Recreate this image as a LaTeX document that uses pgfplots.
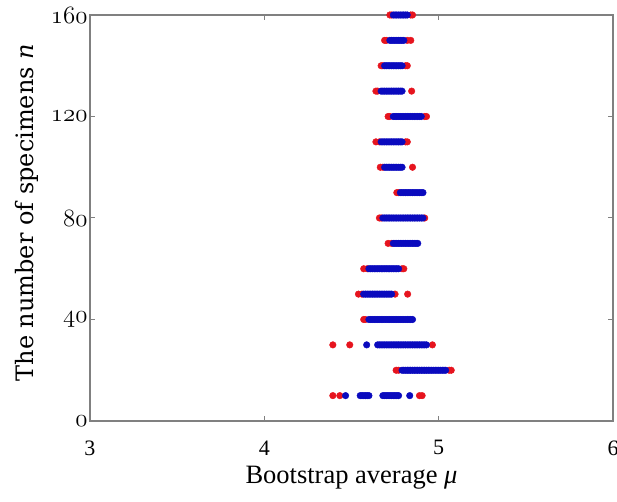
\documentclass[border=0pt]{standalone}
\usepackage{pgfplots}
\pgfplotsset{compat=1.18}
\usepackage{fontspec}
\setmainfont{Liberation Serif}
\newfontfamily\ylfont{DejaVu Serif}
\definecolor{rd}{RGB}{230,20,30}
\definecolor{bl}{RGB}{10,10,190}
\definecolor{ax}{RGB}{128,128,128}
\begin{document}
\begin{tikzpicture}
\begin{axis}[
  scale only axis, width=523pt, height=406pt,
  xmin=3, xmax=6, ymin=0, ymax=160,
  xtick={3,4,5,6}, ytick={0,40,80,120,160},
  xticklabels={3,4,5,6}, yticklabels={0,40,80,120,160},
  tick align=inside, major tick length=5pt,
  axis line style={ax, line width=1.3pt},
  tick style={ax, line width=1pt},
  x tick label style={font=\fontsize{22}{22}\selectfont, yshift=-16pt},
  y tick label style={font=\fontsize{24}{24}\usefont{OML}{cmm}{m}{it}, xshift=1pt},
  xlabel={Bootstrap average \textit{μ}},
  ylabel={The number of specimens \textit{n}},
  xlabel style={font=\fontsize{26.5}{26.5}\selectfont, at={(axis description cs:0.5,-0.140)}, anchor=center},
  ylabel style={font=\ylfont\fontsize{24}{24}\selectfont, at={(axis description cs:-0.1205,0.513)}, anchor=center},
]
% red points (extremes)
\addplot[only marks, mark=*, mark size=3.3pt, color=rd, mark options={fill=rd, draw=rd}] coordinates {
(4.72,160)(4.73,160)(4.84,160)(4.85,160)
(4.69,150)(4.70,150)(4.82,150)(4.84,150)
(4.67,140)(4.68,140)(4.81,140)(4.82,140)
(4.64,130)(4.65,130)(4.845,130)
(4.71,120)(4.72,120)(4.92,120)(4.93,120)
(4.64,110)(4.66,110)(4.81,110)(4.82,110)
(4.665,100)(4.68,100)(4.85,100)
(4.76,90)(4.77,90)
(4.66,80)(4.67,80)(4.92,80)
(4.71,70)(4.73,70)
(4.57,60)(4.59,60)(4.79,60)(4.80,60)
(4.54,50)(4.56,50)(4.75,50)(4.822,50)
(4.57,40)(4.58,40)
(4.393,30)(4.49,30)(4.964,30)
(4.756,20)(4.77,20)(5.06,20)(5.072,20)
(4.393,10)(4.433,10)(4.89,10)(4.905,10)
};
% blue points
\addplot[only marks, mark=*, mark size=3.3pt, color=bl, mark options={fill=bl, draw=bl}] coordinates {
(4.74,160)(4.75,160)(4.76,160)(4.77,160)(4.78,160)(4.79,160)(4.80,160)(4.81,160)(4.82,160)
(4.72,150)(4.73,150)(4.74,150)(4.75,150)(4.76,150)(4.77,150)(4.78,150)(4.79,150)(4.80,150)
(4.69,140)(4.70,140)(4.71,140)(4.72,140)(4.73,140)(4.74,140)(4.75,140)(4.76,140)(4.77,140)(4.78,140)(4.79,140)
(4.67,130)(4.68,130)(4.69,130)(4.70,130)(4.71,130)(4.72,130)(4.73,130)(4.74,130)(4.75,130)(4.76,130)(4.77,130)(4.78,130)(4.79,130)
(4.74,120)(4.75,120)(4.76,120)(4.77,120)(4.78,120)(4.79,120)(4.80,120)(4.81,120)(4.82,120)(4.83,120)(4.84,120)(4.85,120)(4.86,120)(4.87,120)(4.88,120)(4.89,120)(4.90,120)
(4.67,110)(4.68,110)(4.69,110)(4.70,110)(4.71,110)(4.72,110)(4.73,110)(4.74,110)(4.75,110)(4.76,110)(4.77,110)(4.78,110)(4.79,110)
(4.69,100)(4.70,100)(4.71,100)(4.72,100)(4.73,100)(4.74,100)(4.75,100)(4.76,100)(4.77,100)(4.78,100)(4.79,100)
(4.78,90)(4.79,90)(4.80,90)(4.81,90)(4.82,90)(4.83,90)(4.84,90)(4.85,90)(4.86,90)(4.87,90)(4.88,90)(4.89,90)(4.90,90)(4.91,90)
(4.68,80)(4.69,80)(4.70,80)(4.71,80)(4.72,80)(4.73,80)(4.74,80)(4.75,80)(4.76,80)(4.77,80)(4.78,80)(4.79,80)(4.80,80)(4.81,80)(4.82,80)(4.83,80)(4.84,80)(4.85,80)(4.86,80)(4.87,80)(4.88,80)(4.89,80)(4.90,80)(4.91,80)
(4.74,70)(4.75,70)(4.76,70)(4.77,70)(4.78,70)(4.79,70)(4.80,70)(4.81,70)(4.82,70)(4.83,70)(4.84,70)(4.85,70)(4.86,70)(4.87,70)(4.88,70)
(4.60,60)(4.61,60)(4.62,60)(4.63,60)(4.64,60)(4.65,60)(4.66,60)(4.67,60)(4.68,60)(4.69,60)(4.70,60)(4.71,60)(4.72,60)(4.73,60)(4.74,60)(4.75,60)(4.76,60)(4.77,60)
(4.57,50)(4.58,50)(4.59,50)(4.60,50)(4.61,50)(4.62,50)(4.63,50)(4.64,50)(4.65,50)(4.66,50)(4.67,50)(4.68,50)(4.69,50)(4.70,50)(4.71,50)(4.72,50)(4.73,50)
(4.60,40)(4.61,40)(4.62,40)(4.63,40)(4.64,40)(4.65,40)(4.66,40)(4.67,40)(4.68,40)(4.69,40)(4.70,40)(4.71,40)(4.72,40)(4.73,40)(4.74,40)(4.75,40)(4.76,40)(4.77,40)(4.78,40)(4.79,40)(4.80,40)(4.81,40)(4.82,40)(4.83,40)(4.84,40)(4.85,40)
(4.587,30)(4.65,30)(4.66,30)(4.67,30)(4.68,30)(4.69,30)(4.70,30)(4.71,30)(4.72,30)(4.73,30)(4.74,30)(4.75,30)(4.76,30)(4.77,30)(4.78,30)(4.79,30)(4.80,30)(4.81,30)(4.82,30)(4.83,30)(4.84,30)(4.85,30)(4.86,30)(4.87,30)(4.88,30)(4.89,30)(4.90,30)(4.91,30)(4.92,30)(4.93,30)
(4.79,20)(4.80,20)(4.81,20)(4.82,20)(4.83,20)(4.84,20)(4.85,20)(4.86,20)(4.87,20)(4.88,20)(4.89,20)(4.90,20)(4.91,20)(4.92,20)(4.93,20)(4.94,20)(4.95,20)(4.96,20)(4.97,20)(4.98,20)(4.99,20)(5.00,20)(5.01,20)(5.02,20)(5.03,20)(5.04,20)
(4.466,10)(4.55,10)(4.56,10)(4.57,10)(4.58,10)(4.59,10)(4.60,10)(4.68,10)(4.69,10)(4.70,10)(4.71,10)(4.72,10)(4.73,10)(4.74,10)(4.75,10)(4.76,10)(4.77,10)(4.834,10)
};
\end{axis}
\pgfresetboundingbox
\path[use as bounding box] (-90pt,-81pt) rectangle (527pt,421pt);
\end{tikzpicture}
\end{document}
